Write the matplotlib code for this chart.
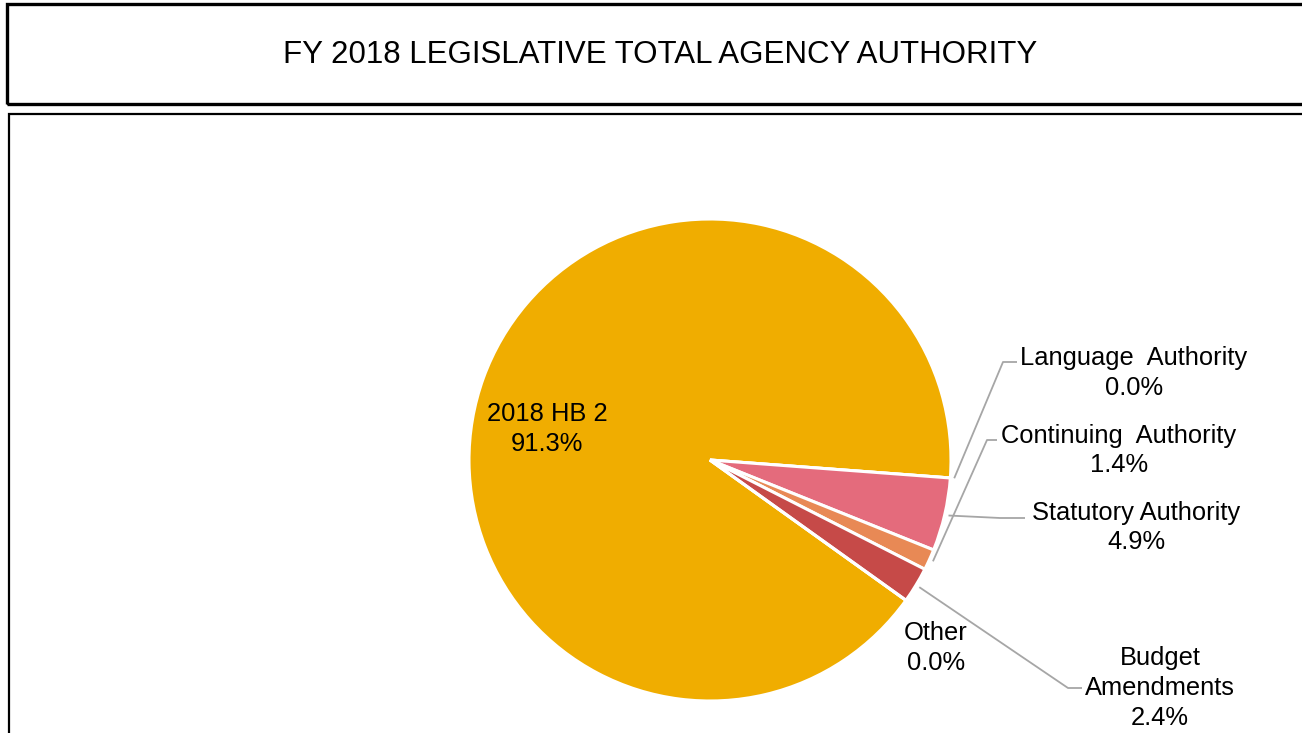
import numpy as np
import matplotlib
matplotlib.use("Agg")
import matplotlib.pyplot as plt
from matplotlib.patches import Rectangle

# ---- data ----
categories = ["2018 HB 2", "Language Authority", "Statutory Authority",
              "Continuing Authority", "Budget Amendments", "Other"]
shares = [91.3, 0.0, 4.9, 1.4, 2.4, 0.0]
colors = ["#F0AD00", "#F0AD00", "#E46B7C", "#E88955", "#C64A48", "#F0AD00"]
label_text = ["2018 HB 2", "Language  Authority", "Statutory Authority",
              "Continuing  Authority", "Budget\nAmendments", "Other"]
title = "FY 2018 LEGISLATIVE TOTAL AGENCY AUTHORITY"

# ---- layout (pixel units, y measured from top) ----
W, H = 1302, 733
CX, CY, R = 710, 460, 241
START = -35.6
explode = [0, 0.012, 0.012, 0.012, 0.012, 0.012]
label_pos = {
    "2018 HB 2": (547, 429),
    "Language Authority": (1134, 373),
    "Statutory Authority": (1136, 527.5),
    "Continuing Authority": (1119, 450.5),
    "Budget Amendments": (1160, 688),
    "Other": (936, 648),
}
# leader elbows: (elbow point, end point)
leaders = {
    "Language Authority": ((1003, 362), (1017, 362)),
    "Continuing Authority": ((987, 440), (997, 440)),
    "Statutory Authority": ((1000, 518), (1025, 518)),
    "Budget Amendments": ((1068, 688), (1082, 688)),
}

plt.rcParams["font.family"] = ["Liberation Sans", "DejaVu Sans"]

fig = plt.figure(figsize=(W / 100, H / 100), dpi=100)
ax = fig.add_axes([0, 0, 1, 1])
ax.set_xlim(0, W)
ax.set_ylim(0, H)
ax.set_aspect("equal")
ax.axis("off")


def py(y):
    return H - y


wedges, _ = ax.pie(shares, colors=colors, startangle=START, counterclock=False,
                   radius=R, center=(CX, py(CY)), explode=explode,
                   wedgeprops=dict(edgecolor="white", linewidth=2.2),
                   normalize=True)
ax.set_xlim(0, W)
ax.set_ylim(0, H)

# frames
ax.add_patch(Rectangle((7, py(104)), 1320, 100, fill=False, edgecolor="black",
                       linewidth=2.4, clip_on=False))
ax.add_patch(Rectangle((9, py(760)), 1320, 646, fill=False, edgecolor="black",
                       linewidth=1.6, clip_on=False))
ax.text(660, py(55), title, ha="center", va="center", fontsize=22.5, color="black")

# mid angles of each wedge
bounds = START - np.cumsum([0] + shares) / 100 * 360
mids = (bounds[:-1] + bounds[1:]) / 2

for i, (name, val) in enumerate(zip(categories, shares)):
    x, y = label_pos[name]
    txt = f"{label_text[i]}\n{val:.1f}%"
    ax.text(x, py(y), txt, ha="center", va="center", fontsize=18.4,
            linespacing=1.3, color="black")
    if name in leaders:
        ang = np.deg2rad(mids[i])
        rr = R * (1.0 + explode[i]) + 1
        sx = CX + rr * np.cos(ang)
        sy = py(CY) + rr * np.sin(ang)
        (ex, ey), (fx, fy) = leaders[name]
        ax.plot([sx, ex, fx], [sy, py(ey), py(fy)], color="#A6A6A6",
                linewidth=1.3, solid_capstyle="butt")

fig.savefig("out.png", dpi=100, facecolor="white")
